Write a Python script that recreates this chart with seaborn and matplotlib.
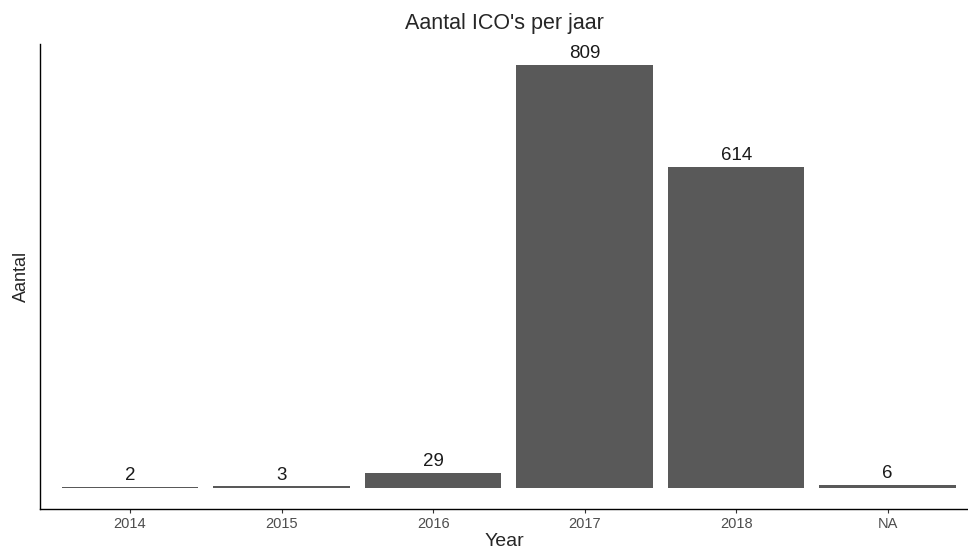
import matplotlib
matplotlib.use("Agg")
import matplotlib.pyplot as plt
import seaborn as sns
import pandas as pd

years = ["2014", "2015", "2016", "2017", "2018", "NA"]
counts = [2, 3, 29, 809, 614, 6]

df = pd.DataFrame({"Year": years, "Aantal": counts})

sns.set_style("white")
plt.rcParams['font.family'] = ['Liberation Sans', 'DejaVu Sans']

fig = plt.figure(figsize=(9.68, 5.51), dpi=100)
ax = fig.add_axes([40/968, 1-509/551, 1-40/968, (509-44)/551])

sns.barplot(data=df, x="Year", y="Aantal", color="#595959", saturation=1,
            width=0.9, ax=ax, edgecolor="none")

ax.set_xlim(-0.594, 5.53)
ymax = max(counts)
ax.set_ylim(-0.05*ymax, 1.05*ymax)

for i, v in enumerate(counts):
    ax.annotate(str(v), (i, v), xytext=(0, 2), textcoords="offset points",
                ha="center", va="bottom", fontsize=13.5, color="#1a1a1a")

for s in ["top", "right"]:
    ax.spines[s].set_visible(False)
for s in ["left", "bottom"]:
    ax.spines[s].set_color("black")
    ax.spines[s].set_linewidth(1.0)

ax.set_yticks([])
ax.tick_params(axis="x", length=3, width=0.8, color="#333333", labelsize=10.5,
               labelcolor="#4d4d4d", pad=3, bottom=True)
ax.set_xlabel("Year", fontsize=14, labelpad=1)
ax.set_ylabel("Aantal", fontsize=13, labelpad=7)
ax.set_title("Aantal ICO's per jaar", fontsize=15.5, pad=11)

fig.savefig("out.png", dpi=100)
